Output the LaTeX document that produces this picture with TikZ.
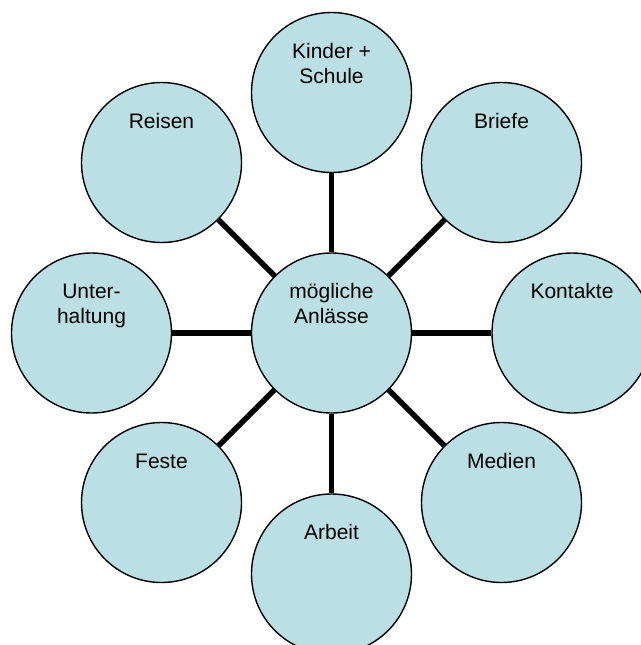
\documentclass[tikz,border=0pt]{standalone}
\usepackage{fontspec}
\setmainfont{Liberation Sans}
\definecolor{bubble}{RGB}{187,224,227}
\begin{document}
\begin{tikzpicture}[x=1pt,y=-1pt,
  bub/.style={circle,draw=black,line width=1.4pt,fill=bubble,minimum size=160pt,inner sep=0pt},
  lbl/.style={align=center,inner sep=0pt,anchor=base,font=\fontsize{21}{25}\selectfont},
  conn/.style={line width=5.5pt}]
\useasboundingbox (0,0) rectangle (640,645);
\coordinate (pc) at (331.5,333);
\coordinate (pn) at (331.5,92.5);
\coordinate (pne) at (501.5,162.5);
\coordinate (pe) at (572,333);
\coordinate (pse) at (501.5,502.5);
\coordinate (ps) at (331.5,574);
\coordinate (psw) at (161.5,502.5);
\coordinate (pw) at (91.5,333);
\coordinate (pnw) at (161.5,162.5);
\foreach \n in {c,n,ne,e,se,s,sw,w,nw}{\node[bub] (\n) at (p\n) {};}
\foreach \n in {n,ne,e,se,s,sw,w,nw}{\draw[conn] (c) -- (\n);}
\node[lbl] (tc) at ([yshift=9.5pt]c.center) {mögliche\\Anlässe};
\node[lbl] (tn) at ([yshift=9.5pt]n.center) {Kinder +\\Schule};
\node[lbl] (tne) at ([yshift=34.5pt]ne.center) {Briefe};
\node[lbl] (te) at ([yshift=34.5pt]e.center) {Kontakte};
\node[lbl] (tse) at ([yshift=34.5pt]se.center) {Medien};
\node[lbl] (ts) at ([yshift=34.5pt]s.center) {Arbeit};
\node[lbl] (tsw) at ([yshift=34.5pt]sw.center) {Feste};
\node[lbl] (tw) at ([yshift=9.5pt]w.center) {Unter-\\haltung};
\node[lbl] (tnw) at ([yshift=34.5pt]nw.center) {Reisen};
\end{tikzpicture}
\end{document}
